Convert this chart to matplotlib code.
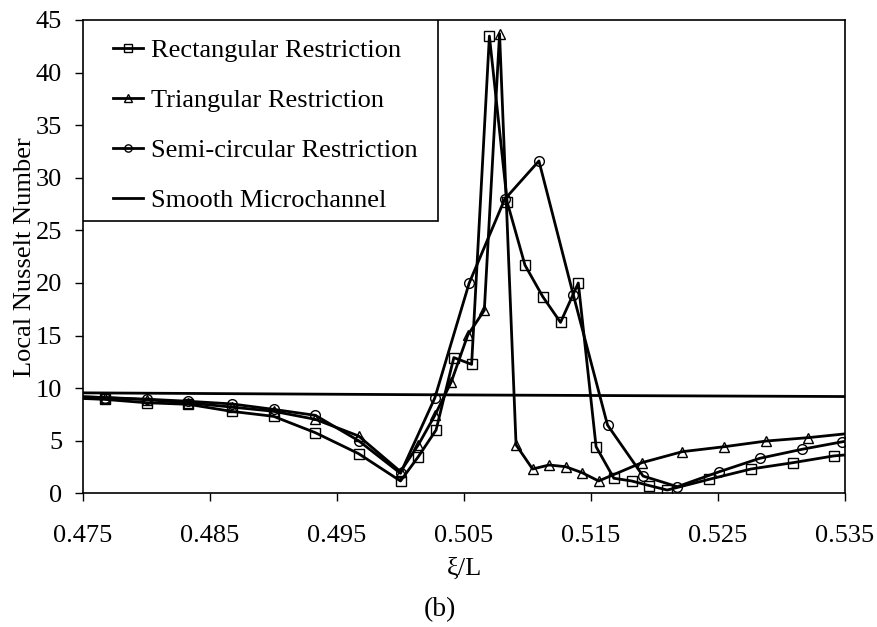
import matplotlib
matplotlib.use("Agg")
import matplotlib.pyplot as plt
from matplotlib.patches import Rectangle

plt.rcParams['font.family'] = ['Liberation Serif', 'DejaVu Serif']

# Local Nusselt number along the channel for each restriction shape
rect_x = [0.4733, 0.4767, 0.4800, 0.4833, 0.4867, 0.4900, 0.4933, 0.4967, 0.5000,
          0.5014, 0.5028, 0.5042, 0.5056, 0.5070, 0.5084, 0.5098, 0.5112, 0.5126,
          0.5140, 0.5154, 0.5168, 0.5182, 0.5196, 0.5210, 0.5243, 0.5276, 0.5309,
          0.5341, 0.5374]
rect_nu = [9.1, 8.93, 8.61, 8.46, 7.79, 7.32, 5.76, 3.77, 1.17,
           3.48, 6.02, 12.9, 12.26, 43.47, 27.7, 21.7, 18.7, 16.25,
           20.0, 4.43, 1.43, 1.17, 0.73, 0.31, 1.33, 2.31, 2.91,
           3.55, 3.9]

tri_x = [0.4733, 0.4767, 0.4800, 0.4833, 0.4867, 0.4900, 0.4933, 0.4967, 0.5000,
         0.5014, 0.5027, 0.5040, 0.5053, 0.5066, 0.5078, 0.5091, 0.5104, 0.5117,
         0.5130, 0.5143, 0.5156, 0.5190, 0.5222, 0.5255, 0.5288, 0.5321, 0.5354]
tri_nu = [9.25, 9.1, 8.9, 8.6, 8.2, 7.8, 7.03, 5.45, 2.06,
          4.6, 7.4, 10.6, 15.05, 17.4, 43.7, 4.6, 2.31, 2.69,
          2.53, 1.96, 1.17, 2.91, 3.96, 4.43, 4.97, 5.29, 5.7]

circ_x = [0.4733, 0.4767, 0.4800, 0.4833, 0.4867, 0.4900, 0.4933, 0.4967, 0.5000,
          0.5027, 0.5054, 0.5082, 0.5109, 0.5136, 0.5163, 0.5191, 0.5218, 0.5251,
          0.5283, 0.5316, 0.5348, 0.5381]
circ_nu = [9.25, 9.1, 8.95, 8.75, 8.5, 7.98, 7.41, 5.0, 1.9,
           9.06, 19.96, 27.95, 31.6, 18.9, 6.49, 1.64, 0.63, 2.05,
           3.33, 4.18, 4.9, 5.5]

smooth_x = [0.475, 0.505, 0.535]
smooth_nu = [9.55, 9.35, 9.2]

x_ticks = [0.475, 0.485, 0.495, 0.505, 0.515, 0.525, 0.535]
y_ticks = [0, 5, 10, 15, 20, 25, 30, 35, 40, 45]

fig = plt.figure(figsize=(8.77, 6.27), dpi=100)
ax = fig.add_axes([83 / 877, 1 - 493.3 / 627, (845 - 83) / 877, (493.3 - 20) / 627])

style = dict(color='black', lw=2.0, markerfacecolor='none', markeredgecolor='black',
             markeredgewidth=1.0, markersize=7)
ax.plot(rect_x, rect_nu, marker='s', label='Rectangular Restriction', **style)
ax.plot(tri_x, tri_nu, marker='^', label='Triangular Restriction', **style)
ax.plot(circ_x, circ_nu, marker='o', label='Semi-circular Restriction', **style)
ax.plot(smooth_x, smooth_nu, color='black', lw=2.0, label='Smooth Microchannel')

ax.set_xlim(0.475, 0.535)
ax.set_ylim(0, 45)
ax.set_xticks(x_ticks)
ax.set_xticklabels(['%.3f' % t for t in x_ticks])
ax.set_yticks(y_ticks)
ax.tick_params(direction='out', length=6, width=1, labelsize=19)
ax.tick_params(axis='x', pad=17)
ax.tick_params(axis='y', pad=9)
for s in ax.spines.values():
    s.set_linewidth(1.2)

ax.set_xlabel('ξ/L', fontsize=19, labelpad=7)
ax.set_ylabel('Local Nusselt Number', fontsize=19, labelpad=0)

# legend box is drawn separately so it can be wider than the entries
ax.add_patch(Rectangle((0, 0.575), 0.466, 0.425, transform=ax.transAxes,
                       facecolor='white', edgecolor='black', lw=1.2, zorder=4))
leg = ax.legend(loc='upper left', bbox_to_anchor=(30 / 762, 1 - 19 / 473.3),
                fontsize=19, frameon=False, borderaxespad=0, borderpad=0,
                handlelength=1.15, handletextpad=0.3, labelspacing=1.0,
                markerscale=0.75)
leg.set_zorder(5)

fig.text(440 / 877, 1 - 610 / 627, '(b)', fontsize=20, ha='center', va='center')

fig.savefig('out.png', dpi=100)
